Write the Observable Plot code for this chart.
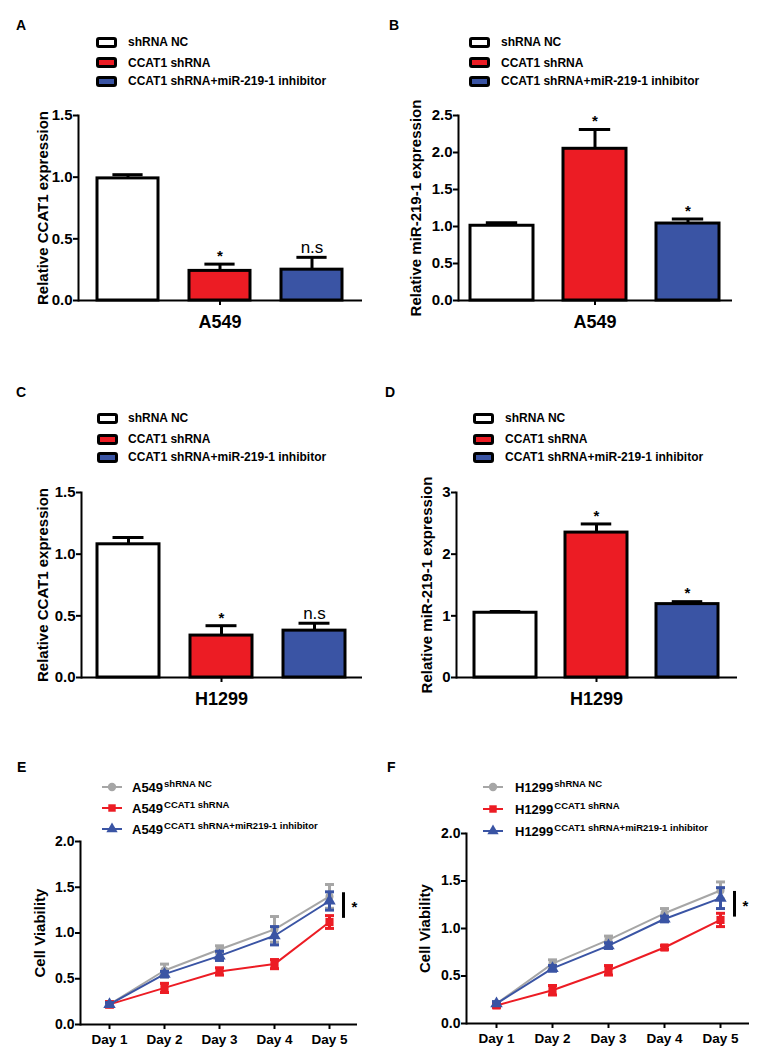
<!DOCTYPE html>
<html><head><meta charset="utf-8">
<script src="https://cdn.jsdelivr.net/npm/d3@7"></script>
<script src="https://cdn.jsdelivr.net/npm/@observablehq/plot@0.6"></script>
<style>
body{margin:0;background:#fff}
#fig{position:relative;width:767px;height:1064px;font-family:"Liberation Sans",Arial,sans-serif;color:#000;overflow:hidden;background:#fff}
#fig > *{position:absolute}
.t{white-space:nowrap;line-height:1}
</style></head><body><div id="fig"></div>
<script>
// ---------- data ----------
const groups = ["shRNA NC", "CCAT1 shRNA", "CCAT1 shRNA+miR-219-1 inhibitor"];
const groupColors = ["#ffffff", "#ec1c24", "#3a54a4"];

const aMean = [0.99, 0.24, 0.25], aErr = [0.03, 0.055, 0.10], aSig = ["", "*", "n.s"];
const bMean = [1.01, 2.05, 1.04], bErr = [0.04, 0.26, 0.06], bSig = ["", "*", "*"];
const cMean = [1.08, 0.34, 0.38], cErr = [0.055, 0.08, 0.06], cSig = ["", "*", "n.s"];
const dMean = [1.05, 2.35, 1.19], dErr = [0.02, 0.14, 0.04], dSig = ["", "*", "*"];

const ticks15 = [0, 0.5, 1.0, 1.5];
const ticks25 = [0, 0.5, 1.0, 1.5, 2.0, 2.5];
const ticks3 = [0, 1, 2, 3];
const ticks20 = [0, 0.5, 1.0, 1.5, 2.0];

const days = ["Day 1", "Day 2", "Day 3", "Day 4", "Day 5"];
const seriesKeys = ["shRNA NC", "CCAT1 shRNA", "CCAT1 shRNA+miR219-1 inhibitor"];
const seriesColors = ["#a6a6a6", "#ec1c24", "#3a54a4"];
const seriesSymbols = ["circle", "square", "triangle"];

const eNC = [0.22, 0.59, 0.82, 1.04, 1.40], eNCerr = [0.02, 0.07, 0.04, 0.14, 0.13];
const eSh = [0.22, 0.40, 0.58, 0.66, 1.12], eSherr = [0.03, 0.05, 0.04, 0.05, 0.07];
const eIn = [0.22, 0.55, 0.75, 0.97, 1.35], eInerr = [0.02, 0.03, 0.05, 0.10, 0.10];
const eSigBar = [1.16, 1.44];

const fNC = [0.21, 0.63, 0.88, 1.16, 1.40], fNCerr = [0.02, 0.04, 0.04, 0.05, 0.09];
const fSh = [0.19, 0.35, 0.56, 0.80, 1.09], fSherr = [0.02, 0.05, 0.05, 0.02, 0.07];
const fIn = [0.21, 0.58, 0.82, 1.10, 1.32], fInerr = [0.02, 0.03, 0.03, 0.03, 0.11];
const fSigBar = [1.12, 1.39];

// ---------- helpers ----------
const fig = document.getElementById("fig");
const FONT = '"Liberation Sans", Arial, sans-serif';

// horizontal cap symbol for error bars
const capSymbol = {
  draw(ctx, size) {
    const w = Math.sqrt(size / Math.PI);
    ctx.moveTo(-w, 0);
    ctx.lineTo(w, 0);
  }
};

function txt(x, baseline, str, size, weight = "bold", html = false) {
  const d = document.createElement("div");
  d.className = "t";
  d.style.left = x + "px";
  d.style.top = (baseline - 0.85 * size) + "px";
  d.style.fontSize = size + "px";
  d.style.fontWeight = weight;
  if (html) d.innerHTML = str; else d.textContent = str;
  fig.appendChild(d);
  return d;
}

function place(el, left, top) {
  el.style.left = left + "px";
  el.style.top = top + "px";
  fig.appendChild(el);
}

function barLegend(boxX, textX, rows) {
  groups.forEach((g, i) => {
    const b = document.createElement("div");
    b.style.cssText = `left:${boxX}px;top:${rows[i] - 5.5}px;width:21px;height:11px;box-sizing:border-box;border:3px solid #000;border-radius:3px;background:${groupColors[i]}`;
    fig.appendChild(b);
    txt(textX, rows[i] + 4.3, g, 12);
  });
}

function lineLegend(lineX, textX, rows, cell) {
  seriesKeys.forEach((k, i) => {
    const ns = "http://www.w3.org/2000/svg";
    const s = document.createElementNS(ns, "svg");
    s.setAttribute("width", 22); s.setAttribute("height", 14);
    s.style.left = lineX + "px"; s.style.top = (rows[i] - 7) + "px"; s.style.position = "absolute";
    const l = document.createElementNS(ns, "line");
    l.setAttribute("x1", 1); l.setAttribute("x2", 21); l.setAttribute("y1", 7); l.setAttribute("y2", 7);
    l.setAttribute("stroke", seriesColors[i]); l.setAttribute("stroke-width", 2);
    s.appendChild(l);
    const p = document.createElementNS(ns, "path");
    const sym = [d3.symbolCircle, d3.symbolSquare, d3.symbolTriangle][i];
    p.setAttribute("d", d3.symbol(sym, Math.PI * 4.2 * 4.2)());
    p.setAttribute("transform", "translate(11,7)");
    p.setAttribute("fill", seriesColors[i]);
    s.appendChild(p);
    fig.appendChild(s);
    txt(textX, rows[i] + 5.5, `${cell}<span style="font-size:9.5px;position:relative;top:-5px;margin-left:1px">${k}</span>`, 13, "bold", true);
  });
}

function barPanel(o) {
  const data = groups.map((g, i) => ({g, v: o.means[i], e: o.errs[i], s: o.sig[i]}));
  const step = (o.width - o.ml - o.mr) / (3 - o.pi + 2 * o.po);
  const capInset = step * (1 - o.pi) * 0.25;
  const plot = Plot.plot({
    width: o.width, height: o.height,
    marginLeft: o.ml, marginRight: o.mr, marginTop: o.mt, marginBottom: o.mb,
    style: {fontFamily: FONT, color: "#000", background: "transparent", overflow: "visible"},
    x: {domain: groups, paddingInner: o.pi, paddingOuter: o.po, label: null},
    y: {domain: [0, o.yMax], label: null},
    color: {domain: groups, range: groupColors},
    marks: [
      Plot.ruleX(data, {x: "g", y1: "v", y2: d => d.v + d.e, stroke: "#000", strokeWidth: 3}),
      Plot.tickY(data, {x: "g", y: d => d.v + d.e, stroke: "#000", strokeWidth: 3, insetLeft: capInset, insetRight: capInset}),
      Plot.barY(data, {x: "g", y: "v", fill: "g", stroke: "#000", strokeWidth: 3}),
      Plot.text(data.filter(d => d.s === "*"), {x: "g", y: d => d.v + d.e, text: "s", dy: -8, fontSize: 15, fontWeight: "bold", fill: "#000"}),
      Plot.text(data.filter(d => d.s === "n.s"), {x: "g", y: d => d.v + d.e, text: "s", lineAnchor: "bottom", dy: -4, fontSize: 17, fill: "#000"}),
      Plot.ruleY([0], {stroke: "#000", strokeWidth: 2}),
      Plot.frame({anchor: "left", stroke: "#000", strokeWidth: 2}),
      Plot.axisY({ticks: o.yTicks, tickFormat: o.yFmt, tickSize: 5, tickPadding: 1, strokeWidth: 2, fontSize: 15, fontWeight: "bold", label: null}),
      Plot.axisX({ticks: [groups[1]], tickFormat: () => o.cell, tickSize: 5, tickPadding: 10, strokeWidth: 2, fontSize: 18, fontWeight: "bold", label: null}),
      Plot.text([o.ytitle], {frameAnchor: "left", textAnchor: "middle", rotate: -90, dx: -o.titleDx, fontSize: 15, fontWeight: "bold", fill: "#000"})
    ]
  });
  place(plot, o.left, o.top);
}

function linePanel(o) {
  const series = seriesKeys.map((k, i) => days.map((d, j) => ({day: d, k, v: o.vals[i][j], e: o.errs[i][j]})));
  const marks = [];
  series.forEach((rows, i) => {
    const c = seriesColors[i];
    marks.push(
      Plot.line(rows, {x: "day", y: "v", stroke: c, strokeWidth: 2}),
      Plot.ruleX(rows, {x: "day", y1: d => d.v - d.e, y2: d => d.v + d.e, stroke: c, strokeWidth: 3}),
      Plot.dot(rows, {x: "day", y: d => d.v + d.e, symbol: capSymbol, r: 4.5, fill: "none", stroke: c, strokeWidth: 3}),
      Plot.dot(rows, {x: "day", y: d => d.v - d.e, symbol: capSymbol, r: 4.5, fill: "none", stroke: c, strokeWidth: 3}),
      Plot.dot(rows, {x: "day", y: "v", symbol: seriesSymbols[i], r: i === 0 ? 4 : 4.6, fill: c, stroke: "none"})
    );
  });
  const plot = Plot.plot({
    width: o.width, height: o.height,
    marginLeft: o.ml, marginRight: o.mr, marginTop: o.mt, marginBottom: o.mb,
    style: {fontFamily: FONT, color: "#000", background: "transparent", overflow: "visible"},
    x: {type: "point", domain: days, padding: 0.5, label: null},
    y: {domain: [0, 2], label: null},
    marks: [
      ...marks,
      Plot.ruleX([o.sig], {x: () => days[4], y1: d => d[0], y2: d => d[1], dx: 14, stroke: "#000", strokeWidth: 3}),
      Plot.text(["*"], {x: () => days[4], y: () => (o.sig[0] + o.sig[1]) / 2, dx: 25, dy: 2, fontSize: 15, fontWeight: "bold", fill: "#000"}),
      Plot.ruleY([0], {stroke: "#000", strokeWidth: 2}),
      Plot.frame({anchor: "left", stroke: "#000", strokeWidth: 2}),
      Plot.axisY({ticks: ticks20, tickFormat: ".1f", tickSize: 5, tickPadding: 1, strokeWidth: 2, fontSize: 14, fontWeight: "bold", label: null}),
      Plot.axisX({ticks: days, tickSize: 5, tickPadding: 5, strokeWidth: 2, fontSize: 13.5, fontWeight: "bold", label: null}),
      Plot.text(["Cell Viability"], {frameAnchor: "left", textAnchor: "middle", rotate: -90, dx: -o.titleDx, fontSize: 15, fontWeight: "bold", fill: "#000"})
    ]
  });
  place(plot, o.left, o.top);
}

// ---------- panels ----------
txt(16, 30, "A", 14); txt(389, 30, "B", 14); txt(16, 397, "C", 14); txt(385, 397, "D", 14);
txt(17, 772, "E", 14); txt(387, 772, "F", 14);

barLegend(96, 128, [42, 62.5, 81]);
barLegend(469, 501, [42, 62.5, 81]);
barLegend(97, 128, [418, 439, 457]);
barLegend(473, 505, [418, 439, 457]);

barPanel({left: 0, top: 100, width: 380, height: 240, ml: 78, mr: 18, mt: 15, mb: 40, pi: 0.333, po: 0.204,
  means: aMean, errs: aErr, sig: aSig, yMax: 1.5, yTicks: ticks15, yFmt: ".1f", cell: "A549", ytitle: "Relative CCAT1 expression", titleDx: 35});
barPanel({left: 380, top: 100, width: 387, height: 240, ml: 78, mr: 35, mt: 15, mb: 40, pi: 0.32, po: 0.133,
  means: bMean, errs: bErr, sig: bSig, yMax: 2.5, yTicks: ticks25, yFmt: ".1f", cell: "A549", ytitle: "Relative miR-219-1 expression", titleDx: 42});
barPanel({left: 0, top: 477, width: 380, height: 240, ml: 81, mr: 18, mt: 15, mb: 40, pi: 0.333, po: 0.177,
  means: cMean, errs: cErr, sig: cSig, yMax: 1.5, yTicks: ticks15, yFmt: ".1f", cell: "H1299", ytitle: "Relative CCAT1 expression", titleDx: 38});
barPanel({left: 380, top: 477, width: 387, height: 240, ml: 76, mr: 30, mt: 15, mb: 40, pi: 0.315, po: 0.185,
  means: dMean, errs: dErr, sig: dSig, yMax: 3, yTicks: ticks3, yFmt: "d", cell: "H1299", ytitle: "Relative miR-219-1 expression", titleDx: 29});

lineLegend(101, 132, [787, 808, 829], "A549");
lineLegend(482, 515, [787, 809, 831], "H1299");

linePanel({left: 0, top: 820, width: 380, height: 240, ml: 80, mr: 23, mt: 21, mb: 36, titleDx: 40,
  vals: [eNC, eSh, eIn], errs: [eNCerr, eSherr, eInerr], sig: eSigBar});
linePanel({left: 380, top: 812, width: 387, height: 240, ml: 86, mr: 18, mt: 21, mb: 29, titleDx: 41,
  vals: [fNC, fSh, fIn], errs: [fNCerr, fSherr, fInerr], sig: fSigBar});
</script></body></html>
